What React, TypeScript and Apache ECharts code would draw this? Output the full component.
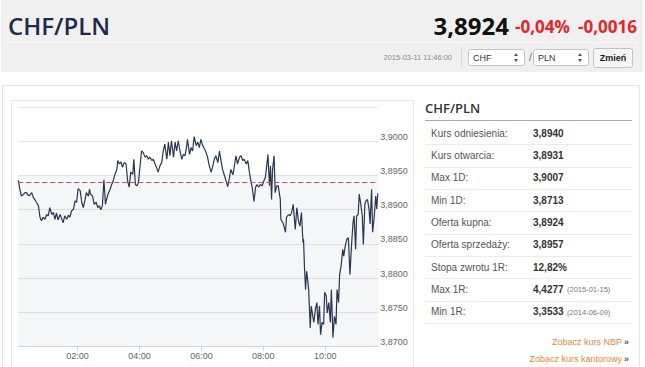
import React, { useEffect, useRef } from "react";
import * as echarts from "echarts";

// ---- data (minutes after 00:00, CHF/PLN rate) ----
const minutes = [
  5, 8, 11, 14, 18, 21, 24, 27, 31, 34, 37, 40, 44, 47, 50, 53, 57, 60, 63, 66,
  70, 73, 76, 79, 82, 86, 89, 92, 95, 99, 102, 105, 108, 112, 115, 118, 121, 125, 128, 131,
  134, 137, 141, 143, 145, 149, 152, 156, 159, 162, 165, 168, 171, 174, 176, 179, 183, 186, 189, 192,
  196, 198, 201, 204, 207, 210, 214, 217, 220, 223, 227, 229, 232, 235, 238, 241, 244, 247, 251, 254,
  257, 260, 264, 267, 270, 273, 276, 280, 283, 286, 289, 293, 296, 299, 302, 306, 309, 312, 315, 319,
  322, 325, 328, 331, 333, 337, 340, 343, 346, 350, 353, 356, 359, 362, 366, 369, 372, 375, 379, 382,
  385, 388, 392, 395, 398, 401, 404, 408, 411, 414, 417, 421, 424, 427, 430, 434, 437, 440, 443, 447,
  450, 453, 456, 459, 462, 465, 468, 471, 474, 478, 481, 484, 487, 489, 492, 494, 496, 498, 501, 503,
  506, 509, 513, 514, 518, 520, 523, 525, 529, 532, 535, 538, 541, 542, 545, 548, 551, 554, 557, 558,
  560, 562, 564, 566, 568, 569, 571, 573, 576, 578, 581, 584, 586, 589, 591, 594, 597, 599, 602, 604,
  607, 610, 612, 614, 615, 618, 621, 623, 626, 628, 631, 634, 636, 639, 642, 645, 648, 651, 654, 656,
  659, 661, 664, 666, 669, 672, 674, 677, 679, 682, 685, 687, 690, 692, 695, 698, 700, 702,
];
const rates = [
  3.8943, 3.893, 3.892, 3.8922, 3.8925, 3.8925, 3.8921, 3.8921, 3.8925, 3.8918, 3.8915, 3.8911, 3.8906, 3.8889, 3.8884, 3.8889, 3.8886, 3.8893, 3.8891, 3.8903,
  3.8893, 3.8896, 3.8886, 3.8895, 3.8885, 3.8893, 3.8887, 3.8881, 3.8891, 3.8886, 3.8892, 3.8889, 3.8898, 3.8901, 3.8913, 3.8911, 3.8931, 3.8928, 3.8911, 3.8903,
  3.8913, 3.8925, 3.892, 3.893, 3.8923, 3.892, 3.8908, 3.8911, 3.8903, 3.8906, 3.89, 3.8906, 3.8944, 3.8908, 3.8915, 3.8923, 3.893, 3.8937, 3.8942, 3.8951,
  3.8959, 3.8972, 3.8967, 3.897, 3.8962, 3.8969, 3.8967, 3.8942, 3.8933, 3.8955, 3.8952, 3.8974, 3.8937, 3.8935, 3.894, 3.8964, 3.8986, 3.8984, 3.8977, 3.8979,
  3.8974, 3.8977, 3.8972, 3.8974, 3.8967, 3.8962, 3.8955, 3.8965, 3.8969, 3.8986, 3.8996, 3.8974, 3.8999, 3.8979, 3.9001, 3.8977, 3.8999, 3.8986, 3.9001, 3.8984,
  3.8974, 3.8981, 3.8979, 3.8991, 3.9003, 3.8981, 3.8991, 3.8986, 3.9007, 3.8994, 3.8999, 3.8991, 3.9003, 3.8995, 3.8989, 3.8984, 3.8977, 3.8965, 3.8955, 3.8964,
  3.8974, 3.8979, 3.8969, 3.8986, 3.8972, 3.8959, 3.8952, 3.8942, 3.8934, 3.8945, 3.8959, 3.8951, 3.8964, 3.8979, 3.8967, 3.8977, 3.8979, 3.8972, 3.8974, 3.8967,
  3.8972, 3.8955, 3.8942, 3.893, 3.8912, 3.8933, 3.8937, 3.8933, 3.8937, 3.8935, 3.8942, 3.8947, 3.8967, 3.8981, 3.8935, 3.8964, 3.8915, 3.8959, 3.8979, 3.8925,
  3.8935, 3.8935, 3.8915, 3.8886, 3.8881, 3.8876, 3.8867, 3.8889, 3.8893, 3.8891, 3.8896, 3.8908, 3.8881, 3.8871, 3.8903, 3.8884, 3.8876, 3.8896, 3.8852, 3.8857,
  3.8813, 3.8783, 3.881, 3.8798, 3.8783, 3.8764, 3.8727, 3.8759, 3.8744, 3.8735, 3.8754, 3.8764, 3.8732, 3.8759, 3.8717, 3.8735, 3.8732, 3.8779, 3.8774, 3.8749,
  3.8764, 3.8735, 3.8783, 3.8739, 3.8713, 3.8744, 3.8732, 3.8783, 3.8764, 3.8805, 3.8818, 3.8842, 3.8832, 3.8847, 3.8857, 3.8859, 3.8805, 3.8847, 3.8881, 3.8891,
  3.8842, 3.8891, 3.8893, 3.8923, 3.8908, 3.8891, 3.8849, 3.8908, 3.8913, 3.8915, 3.8901, 3.8879, 3.893, 3.8867, 3.8889, 3.892, 3.8901, 3.8924,
];
const referenceRate = 3.894;
const bandTop = 3.895;
const yMin = 3.87;
const yMax = 3.905;
const yStep = 0.005;
const xStart = 5;
const xEnd = 703;
const xTickMinutes = [120, 240, 360, 480, 600];

const pairName = "CHF/PLN";
const lastRate = "3,8924";
const changePct = "-0,04%";
const changeAbs = "-0,0016";
const stamp = "2015-03-11 11:46:00";
const baseCcy = "CHF";
const quoteCcy = "PLN";
const buttonText = "Zmień";

const statLabels = [
  "Kurs odniesienia:",
  "Kurs otwarcia:",
  "Max 1D:",
  "Min 1D:",
  "Oferta kupna:",
  "Oferta sprzedaży:",
  "Stopa zwrotu 1R:",
  "Max 1R:",
  "Min 1R:",
];
const statValues = ["3,8940", "3,8931", "3,9007", "3,8713", "3,8924", "3,8957", "12,82%", "4,4277", "3,3533"];
const statNotes = ["", "", "", "", "", "", "", "(2015-01-15)", "(2014-06-09)"];
const links = ["Zobacz kurs NBP", "Zobacz kurs kantorowy"];

const SANS = "'Liberation Sans', Arial, sans-serif";
const OPEN = "'Open Sans', 'Liberation Sans', sans-serif";

function pad(n: number) {
  return n < 10 ? "0" + n : String(n);
}

export default function App() {
  const ref = useRef<HTMLDivElement>(null);
  useEffect(() => {
    document.body.style.margin = "0";
    const chart = echarts.init(ref.current!, null, { renderer: "svg" });
    const data = minutes.map((m, i) => [m, rates[i]]);

    const graphics: any[] = [];
    // header
    graphics.push({ type: "rect", shape: { x: 1, y: 0, width: 642, height: 72 }, style: { fill: "#f0f0f0" }, silent: true });
    graphics.push({ type: "line", shape: { x1: 8, y1: 42.5, x2: 637, y2: 42.5 }, style: { stroke: "#fafafa", lineWidth: 1 }, silent: true });
    graphics.push({ type: "text", x: 8, y: 25, style: { text: pairName, fill: "#1c2b4a", fontSize: 24, fontWeight: 600, fontFamily: OPEN, verticalAlign: "middle" } });
    graphics.push({ type: "text", x: 509, y: 25, style: { text: lastRate, fill: "#111", fontSize: 24, fontWeight: "bold", fontFamily: OPEN, align: "right", verticalAlign: "middle" } });
    graphics.push({ type: "text", x: 515, y: 26, style: { text: changePct, fill: "#e2262b", fontSize: 17, fontWeight: "bold", fontFamily: OPEN, verticalAlign: "middle" } });
    graphics.push({ type: "text", x: 578, y: 26, style: { text: changeAbs, fill: "#e2262b", fontSize: 17, fontWeight: "bold", fontFamily: OPEN, verticalAlign: "middle" } });
    graphics.push({ type: "text", x: 452, y: 57.5, style: { text: stamp, fill: "#8a8a8a", fontSize: 7.5, fontFamily: SANS, align: "right", verticalAlign: "middle" } });
    graphics.push({ type: "line", shape: { x1: 461.5, y1: 47, x2: 461.5, y2: 68 }, style: { stroke: "#dcdcdc", lineWidth: 1 }, silent: true });
    const selects = [
      { x: 468, w: 56, t: baseCcy },
      { x: 533, w: 55, t: quoteCcy },
    ];
    selects.forEach((s) => {
      graphics.push({ type: "rect", shape: { x: s.x + 0.5, y: 49.5, width: s.w, height: 16, r: 2 }, style: { fill: "#fff", stroke: "#c4c4c4", lineWidth: 1 } });
      graphics.push({ type: "text", x: s.x + 5, y: 57.5, style: { text: s.t, fill: "#333", fontSize: 9, fontFamily: SANS, verticalAlign: "middle" } });
      const ax = s.x + s.w - 8;
      graphics.push({ type: "polygon", shape: { points: [[ax - 2, 56], [ax + 2, 56], [ax, 53]] }, style: { fill: "#555" } });
      graphics.push({ type: "polygon", shape: { points: [[ax - 2, 59], [ax + 2, 59], [ax, 62]] }, style: { fill: "#555" } });
    });
    graphics.push({ type: "text", x: 529, y: 57.5, style: { text: "/", fill: "#666", fontSize: 10, fontFamily: SANS, verticalAlign: "middle" } });
    graphics.push({ type: "rect", shape: { x: 593.5, y: 48.5, width: 39, height: 19, r: 2 }, style: { fill: "#f6f6f6", stroke: "#c4c4c4", lineWidth: 1 } });
    graphics.push({ type: "text", x: 613, y: 58, style: { text: buttonText, fill: "#222", fontSize: 9, fontWeight: "bold", fontFamily: SANS, align: "center", verticalAlign: "middle" } });

    // panels
    graphics.push({ type: "rect", shape: { x: 2.5, y: 85.5, width: 637, height: 300 }, style: { fill: "none", stroke: "#e4e4e4", lineWidth: 1 }, silent: true });
    graphics.push({ type: "rect", shape: { x: 11.5, y: 100.5, width: 402, height: 300 }, style: { fill: "none", stroke: "#e6e6e6", lineWidth: 1 }, silent: true });

    // right panel
    graphics.push({ type: "text", x: 425, y: 108, style: { text: pairName, fill: "#333", fontSize: 13, fontWeight: 600, fontFamily: OPEN, verticalAlign: "middle" } });
    graphics.push({ type: "line", shape: { x1: 425, y1: 120.5, x2: 632, y2: 120.5 }, style: { stroke: "#a8a8a8", lineWidth: 1 } });
    const rowY0 = 133.3;
    const rowH = 22.3;
    statLabels.forEach((lab, i) => {
      const y = rowY0 + i * rowH;
      graphics.push({ type: "text", x: 431, y, style: { text: lab, fill: "#555", fontSize: 10, fontFamily: SANS, verticalAlign: "middle" } });
      graphics.push({ type: "text", x: 533, y, style: { text: statValues[i], fill: "#333", fontSize: 10, fontWeight: "bold", fontFamily: SANS, verticalAlign: "middle" } });
      if (statNotes[i]) {
        graphics.push({ type: "text", x: 567, y: y + 0.5, style: { text: statNotes[i], fill: "#777", fontSize: 7.5, fontFamily: SANS, verticalAlign: "middle" } });
      }
      const ly = Math.round(y + rowH / 2) + 0.5;
      graphics.push({ type: "line", shape: { x1: 425, y1: ly, x2: 632, y2: ly }, style: { stroke: "#ececec", lineWidth: 1 } });
    });
    links.forEach((t, i) => {
      const y = 341.5 + i * 17.3;
      graphics.push({ type: "text", x: 622, y, style: { text: t, fill: "#e8843c", fontSize: 9, fontFamily: SANS, align: "right", verticalAlign: "middle" } });
      graphics.push({ type: "text", x: 624, y, style: { text: "»", fill: "#6a5a4a", fontSize: 9, fontWeight: "bold", fontFamily: SANS, verticalAlign: "middle" } });
    });

    const option: any = {
      animation: false,
      backgroundColor: "#fff",
      grid: { left: 18.3, right: 266.7, top: 107.3, bottom: 20.7, containLabel: false },
      xAxis: {
        type: "value",
        min: xStart,
        max: xEnd,
        axisLine: { show: true, lineStyle: { color: "#ccd6eb", width: 1 } },
        axisTick: { show: true, customValues: xTickMinutes, length: 5, lineStyle: { color: "#ccd6eb" } },
        axisLabel: {
          customValues: xTickMinutes,
          color: "#666",
          fontSize: 9,
          fontFamily: SANS,
          margin: 5,
          formatter: (v: number) => pad(Math.floor(v / 60)) + ":" + pad(Math.round(v % 60)),
        },
        splitLine: { show: false },
      },
      yAxis: {
        type: "value",
        position: "right",
        min: yMin,
        max: yMax,
        interval: yStep,
        axisLine: { show: false },
        axisTick: { show: false },
        axisLabel: {
          color: "#666",
          fontSize: 9,
          fontFamily: SANS,
          margin: 2,
          verticalAlign: "bottom",
          formatter: (v: number) => (v > yMax - yStep / 2 ? "" : v.toFixed(4).replace(".", ",")),
        },
        splitLine: { show: true, lineStyle: { color: "#e6e6e6", width: 1 } },
      },
      series: [
        {
          type: "line",
          data,
          showSymbol: false,
          symbol: "none",
          lineStyle: { color: "#283650", width: 1.2 },
          markArea: {
            silent: true,
            itemStyle: { color: "rgba(20,40,90,0.045)" },
            data: [[{ coord: [xStart, yMin] }, { coord: [xEnd, bandTop] }]],
          },
          markLine: {
            silent: true,
            symbol: "none",
            label: { show: false },
            lineStyle: { color: "#c9544e", type: [5, 3], width: 1 },
            data: [[{ coord: [xStart, referenceRate] }, { coord: [xEnd, referenceRate] }]],
          },
        },
      ],
      graphic: graphics,
    };
    chart.setOption(option);
    return () => chart.dispose();
  }, []);
  return <div ref={ref} style={{ width: 645, height: 367 }} />;
}
